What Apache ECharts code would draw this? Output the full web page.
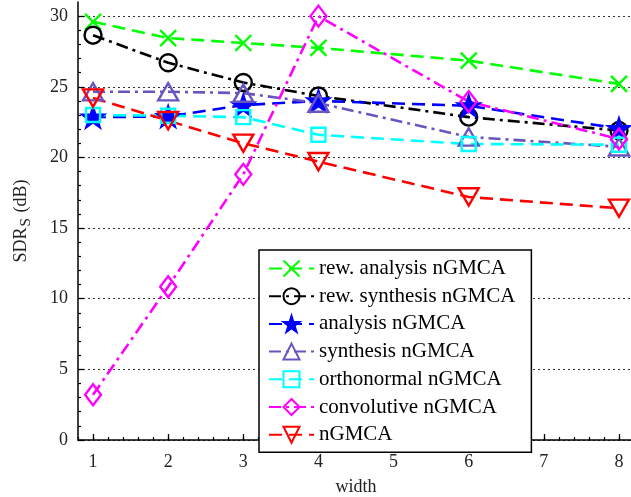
<!DOCTYPE html>
<html><head><meta charset="utf-8">
<script src="https://cdn.jsdelivr.net/npm/echarts@6/dist/echarts.min.js"></script>
<style>html,body{margin:0;padding:0;background:#fff}#c{width:631px;height:497px}</style>
</head><body><div id="c"></div>
<script>
const widths = [1, 2, 3, 4, 6, 8];
const xTickLabels = [1, 2, 3, 4, 5, 6, 7, 8];
const yTickLabels = [0, 5, 10, 15, 20, 25, 30];
const seriesNames = ['rew. analysis nGMCA','rew. synthesis nGMCA','analysis nGMCA','synthesis nGMCA','orthonormal nGMCA','convolutive nGMCA','nGMCA'];
const rewAnalysis   = [29.6, 28.45, 28.1, 27.75, 26.85, 25.2];
const rewSynthesis  = [28.65, 26.7, 25.3, 24.35, 22.85, 21.9];
const analysis      = [22.85, 22.9, 23.7, 24.0, 23.65, 22.05];
const synthesis     = [24.65, 24.65, 24.55, 23.85, 21.45, 20.75];
const orthonormal   = [23.0, 22.95, 22.85, 21.6, 20.95, 20.9];
const convolutive   = [3.2, 10.85, 18.8, 30.0, 23.95, 21.3];
const ngmca         = [24.2, 22.6, 21.0, 19.7, 17.2, 16.4];

const FONT = 'Liberation Serif';
const P = {
  cross: 'path://M0,0L10,10M0,10L10,0',
  star: 'path://M50,0L61.8,35.4L99,35.4L69.1,57.3L80.9,92.7L50,70.8L19.1,92.7L30.9,57.3L1,35.4L38.2,35.4Z',
  triUp: 'path://M5,0L10,8.66L0,8.66Z',
  triDown: 'path://M0,0L10,0L5,8.66Z'
};
function mk(name, data, color, sym, size, dash, filled) {
  return {
    name, type: 'line', data: widths.map((w, i) => [w, data[i]]),
    symbol: sym, symbolSize: size, symbolKeepAspect: true, showAllSymbol: true,
    lineStyle: { color, width: 2.6, type: dash },
    itemStyle: { color: filled ? color : 'rgba(0,0,0,0)', borderColor: color, borderWidth: 2.4 },
    emphasis: { disabled: true }, animation: false, z: 3
  };
}
const dashed = [13, 7];
const dashDot = [12, 5, 3, 5];
const series = [
  mk(seriesNames[0], rewAnalysis, '#00ff00', P.cross, 16, dashed, false),
  mk(seriesNames[1], rewSynthesis, '#000000', 'circle', 17, dashDot, false),
  mk(seriesNames[2], analysis, '#0000ff', P.star, 21, dashed, true),
  mk(seriesNames[3], synthesis, '#6a55c0', P.triUp, 20, dashDot, false),
  mk(seriesNames[4], orthonormal, '#00ffff', 'rect', 14, dashed, false),
  mk(seriesNames[5], convolutive, '#ff00ff', 'diamond', [16, 21], dashDot, false),
  mk(seriesNames[6], ngmca, '#ff0000', P.triDown, 20, dashed, false)
];
// minor tick helper axis
series.push({ type: 'line', xAxisIndex: 1, data: [], silent: true });

const chart = echarts.init(document.getElementById('c'), null, { renderer: 'canvas' });
chart.setOption({
  animation: false,
  backgroundColor: '#fff',
  grid: { left: 78, right: -3, top: 2, bottom: 57, containLabel: false, outerBoundsMode: 'none' },
  legend: {
    data: seriesNames, orient: 'vertical', left: 259, top: 250,
    backgroundColor: '#fff', borderColor: '#000', borderWidth: 1.5,
    padding: [8, 16, 7, 9], itemGap: 6.7, itemWidth: 45, itemHeight: 20,
    textStyle: { fontFamily: FONT, fontSize: 21, color: '#000', lineHeight: 20, padding: [0, 0, 0, 0] },
    selectedMode: false
  },
  xAxis: [{
    type: 'value', min: 0.8, max: 8.2,
    name: 'width', nameLocation: 'middle', nameGap: 38,
    nameTextStyle: { fontFamily: FONT, fontSize: 18, color: '#222' },
    axisLine: { onZero: false, lineStyle: { color: '#000', width: 1.5 } },
    axisTick: { inside: true, length: 6, lineStyle: { color: '#000', width: 1.3 }, customValues: xTickLabels },
    axisLabel: { margin: 13, fontFamily: FONT, fontSize: 18, color: '#222', customValues: xTickLabels },
    splitLine: { show: false }
  }, {
    type: 'value', min: 0.8, max: 8.2, interval: 0.2, position: 'bottom',
    axisLine: { show: false },
    axisTick: { inside: true, length: 3, lineStyle: { color: '#000', width: 1.2 } },
    axisLabel: { show: false }, splitLine: { show: false }
  }],
  yAxis: {
    type: 'value', min: 0, max: 31,
    name: 'SDR{sub|S} (dB)', nameLocation: 'middle', nameGap: 44,
    nameTextStyle: { fontFamily: FONT, fontSize: 18, color: '#222',
      rich: { sub: { fontFamily: FONT, fontSize: 15, verticalAlign: 'bottom', padding: [10, 1, 0, 1] } } },
    axisLine: { show: true, onZero: false, lineStyle: { color: '#000', width: 1.5 } },
    axisTick: { inside: true, length: 6, lineStyle: { color: '#000', width: 1.3 }, customValues: yTickLabels },
    minorTick: { show: true, splitNumber: 5, length: 3, lineStyle: { color: '#000', width: 1.2 } },
    axisLabel: { margin: 10, fontFamily: FONT, fontSize: 18, color: '#222', customValues: yTickLabels },
    splitLine: { show: true, lineStyle: { color: '#333', width: 1, type: [2, 3] } }
  },
  series
});
</script></body></html>
